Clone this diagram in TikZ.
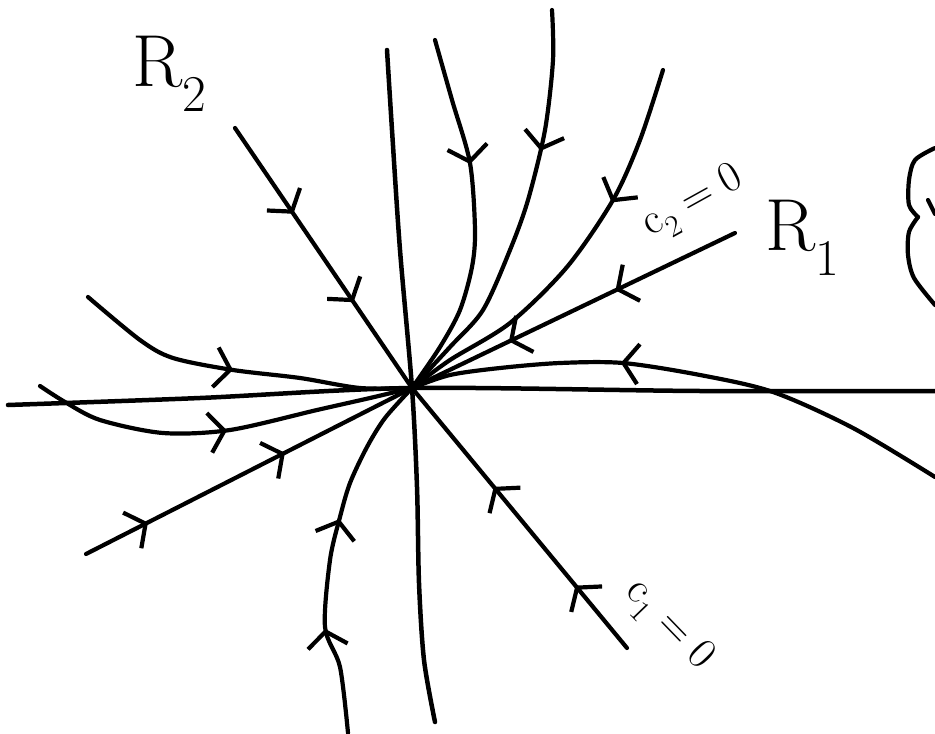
\documentclass[tikz,border=0pt]{standalone}
\usepackage{tikz}
\usetikzlibrary{arrows.meta, decorations.markings, calc}

\tikzset{flowtip/.tip={Straight Barb[length=15bp,width=40bp]}}

\begin{document}
\begin{tikzpicture}[x=1bp, y=-1bp, line cap=round, line join=round,
  axis/.style={line width=4.5bp},
  traj/.style={line width=4.2bp},
  barb/.style={postaction={decorate, decoration={markings, mark=at position #1 with {\arrow{flowtip}}}}},
  region/.style={font=\fontsize{74}{74}\selectfont, inner sep=0pt},
  cond/.style={font=\fontsize{44}{44}\selectfont, inner sep=0pt}
]
\useasboundingbox (0,0) rectangle (935,734);
\coordinate (O) at (412,388);

% axes
\draw[axis] plot[smooth] coordinates {(8,405) (200,398) (O) (700,391) (935,391)};
\draw[axis] plot[smooth] coordinates {(387,50) (392,130) (400,250) (O) (417,487) (419,583) (424,660) (435,722)};

% c_2=0 eigen-line
\draw[traj, barb=0.37, barb=0.70] (735,233) -- (O);
\draw[traj, barb=0.19, barb=0.61] (86,554) -- (O);

% c_1=0 eigen-line
\draw[traj, barb=0.33, barb=0.67] (235,128) -- (O);
\draw[traj, barb=0.24, barb=0.62] (627,648) -- (O);

% trajectories tangent to c_2=0
\draw[traj, barb=0.35] plot[smooth] coordinates {(435,40) (452,100) (470,163) (475,230) (472,267) (460,310) (440,347) (O)};
\draw[traj, barb=0.34] plot[smooth] coordinates {(552,10) (553,60) (545,130) (528,200) (510,250) (483,310) (450,347) (O)};
\draw[traj, barb=0.34] plot[smooth] coordinates {(663,70) (640,140) (613,200) (567,267) (510,323) (450,360) (O)};
\draw[traj, barb=0.615] plot[smooth] coordinates {(935,477) (853,428) (773,392) (700,375) (623,363) (560,363) (500,368) (450,375) (O)};
\draw[traj, barb=0.48] plot[smooth] coordinates {(88,297) (140,340) (173,358) (233,370) (300,378) (360,388) (O)};
\draw[traj, barb=0.51] plot[smooth] coordinates {(40,386) (65,402) (100,420) (163,433) (230,430) (317,410) (370,398) (O)};
\draw[traj, barb=0.29, barb=0.59] plot[smooth] coordinates {(348,733) (340,667) (325,627) (330,560) (340,517) (350,483) (367,447) (385,418) (O)};

% labels
\node[region] (r2) at (170,74) {R\textsubscript{2}};
\node[region] (r1) at (803,238) {R\textsubscript{1}};
\node[cond, rotate=29] (c2) at (694,203) {c\textsubscript{2}\;=\;0};
\node[cond, rotate=-46] (c1) at (668,626) {c\textsubscript{1}\;=\;0};

% brace on the right
\draw[traj] plot[smooth] coordinates {(935,148) (915,160) (909,180) (909,205) (918,217)};
\draw[traj] plot[smooth] coordinates {(918,217) (909,232) (908,255) (914,278) (935,305)};
\draw[traj] (928,200) -- (935,214);
\end{tikzpicture}
\end{document}
